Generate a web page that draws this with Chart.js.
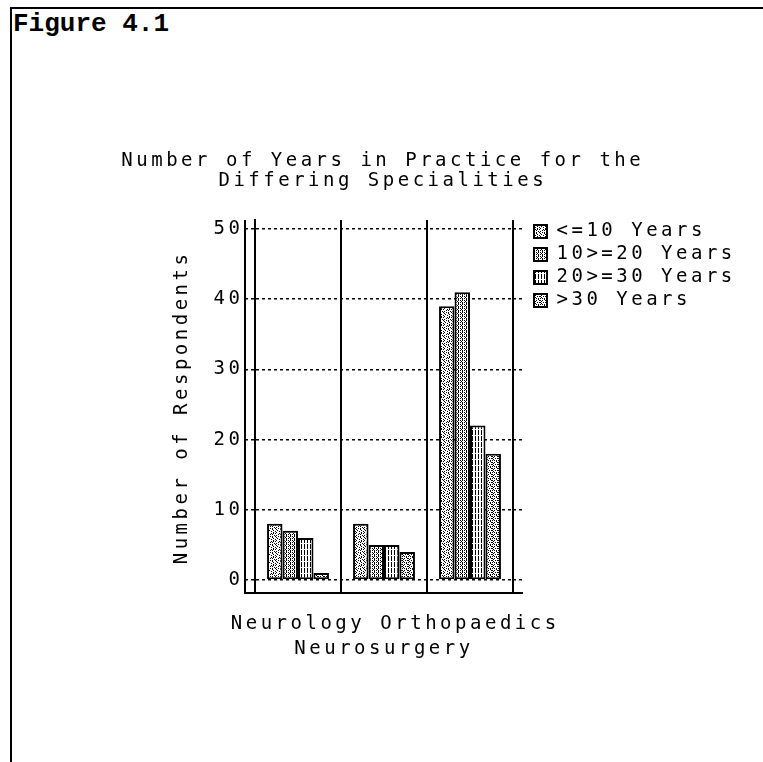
<!DOCTYPE html>
<html><head><meta charset="utf-8">
<script src="https://cdn.jsdelivr.net/npm/chart.js@4.4.0/dist/chart.umd.min.js"></script>
<style>
html,body{margin:0;padding:0;background:#fff;}
#wrap{position:relative;width:763px;height:762px;overflow:hidden;background:#fff;}
#frame{position:absolute;left:10px;top:7px;width:800px;height:800px;border-top:2.5px solid #000;border-left:2.5px solid #000;}
#fig{position:absolute;left:13px;top:9px;font:bold 26px "Liberation Mono";color:#000;}
canvas{position:absolute;left:0;top:0;}
</style></head>
<body><div id="wrap"><div id="frame"></div><div id="fig">Figure 4.1</div><canvas id="c" width="763" height="762"></canvas></div>
<script>
// ---- data ----
const categories = ['Neurology', 'Neurosurgery', 'Orthopaedics'];
const seriesNames = ['<=10 Years', '10>=20 Years', '20>=30 Years', '>30 Years'];
const upTo10 = [8, 8, 39];
const from10to20 = [7, 5, 41];
const from20to30 = [6, 5, 22];
const over30 = [1, 4, 18];
const yMin = 0, yMax = 51.3, yStep = 10;
const chartTitle = ['Number of Years in Practice for the', 'Differing Specialities'];
const yTitle = 'Number of Respondents ';

// ---- fill patterns (styling only) ----
const canvas = document.getElementById('c');
const mainCtx = canvas.getContext('2d');
function makePattern(rows){
  const h = rows.length, w = rows[0].length;
  const c = document.createElement('canvas'); c.width = w; c.height = h;
  const g = c.getContext('2d');
  g.fillStyle = '#fff'; g.fillRect(0,0,w,h);
  g.fillStyle = '#000';
  rows.forEach((r,y)=>{ for(let x=0;x<w;x++) if(r[x]==='#') g.fillRect(x,y,1,1); });
  return mainCtx.createPattern(c,'repeat');
}
const patterns = [
  makePattern(['#..#..#.','#...#...','.#...#..','...#...#','.#..#...','.#.#...#','#.....#.','..#.#...']),
  makePattern(['#.#.','.#..','#.#.','..#.']),
  makePattern(['.#..#.','.#..#.','.#..#.','......','.#..#.','.#..#.']),
  makePattern(['#.#..#','.#....','#..#.#','.#....','#.#.#.','....#.'])
];
const seriesValues = [upTo10, from10to20, from20to30, over30];

const FONT = 'DejaVu Sans Mono';
const LS = '3.5px';
const spacing = {
  id: 'spacing',
  beforeUpdate(chart){ chart.ctx.letterSpacing = LS; },
  beforeDraw(chart){ chart.ctx.letterSpacing = LS; },
  afterLayout(chart){
    const a = chart.chartArea;
    const L = chart.legend;
    if (L){ const w = L.width, h = L.height; L.left = a.right + 17; L.right = L.left + w; L.top = a.top - 2; L.bottom = L.top + h; }
    const T = chart.titleBlock;
    if (T){ const c = (T.left + T.right) / 2 + 37; T.left = c - 320; T.right = c + 320; }
  }
};
const frame = {
  id: 'frame',
  afterDraw(chart){
    const {ctx, chartArea:a} = chart;
    ctx.save();
    ctx.strokeStyle = '#000'; ctx.lineWidth = 2; ctx.setLineDash([]);
    ctx.beginPath();
    ctx.moveTo(a.left - 10, a.top); ctx.lineTo(a.left - 10, a.bottom + 13);
    ctx.lineTo(a.right + 10, a.bottom + 13);
    ctx.stroke();
    ctx.restore();
  }
};

new Chart(canvas, {
  type: 'bar',
  data: {
    labels: categories,
    datasets: seriesNames.map((n,i)=>({
      label: n,
      data: seriesValues[i],
      backgroundColor: patterns[i],
      borderColor: '#000',
      borderWidth: 2,
      borderSkipped: false,
      categoryPercentage: 0.72,
      barPercentage: 1.0
    }))
  },
  options: {
    responsive: false,
    animation: false,
    devicePixelRatio: 1,
    layout: { padding: { top: 140, left: 168.6, right: 240, bottom: 101 } },
    plugins: {
      title: {
        display: true, text: chartTitle, color: '#000',
        font: { family: FONT, size: 19, weight: 'normal', lineHeight: 1.05 },
        padding: { top: 11, bottom: 29 }
      },
      legend: {
        position: 'chartArea', align: 'start',
        labels: {
          boxWidth: 13, boxHeight: 13, padding: 4, color: '#000',
          font: { family: FONT, size: 19 }
        }
      },
      tooltip: { enabled: false }
    },
    scales: {
      x: {
        offset: true,
        afterFit(s){ s.height = 81; },
        border: { display: false },
        grid: { color: '#000', lineWidth: 2, offset: true, tickLength: 13, drawTicks: true },
        ticks: {
          color: '#000', font: { family: FONT, size: 19, lineHeight: 1.3 },
          padding: 18.6, maxRotation: 0, minRotation: 0, autoSkip: false,
          callback: function(v, i){ const l = this.getLabelForValue(v); return i % 2 ? ['', l] : l; }
        }
      },
      y: {
        min: yMin, max: yMax,
        afterFit(s){ s.width = 86.4; },
        border: { display: true, color: '#000', width: 2, dash: [3,3] },
        grid: { color: '#000', lineWidth: 1.5, tickLength: 10, tickBorderDash: [3,3], borderDash: [3,3] },
        ticks: { stepSize: yStep, includeBounds: false, color: '#000', padding: 1.5,
                 font: { family: FONT, size: 19 } },
        title: { display: true, text: yTitle, color: '#000',
                 font: { family: FONT, size: 19, lineHeight: 1.2 }, padding: { top: 2, bottom: 20 } }
      },
      y2: {
        position: 'right', min: yMin, max: yMax,
        afterFit(s){ s.width = 10; },
        border: { display: false, dash: [3,3] },
        grid: { drawOnChartArea: false, color: '#000', lineWidth: 1.5, tickLength: 10, tickBorderDash: [3,3] },
        ticks: { stepSize: yStep, includeBounds: false, padding: 0, callback: () => '' }
      }
    }
  },
  plugins: [spacing, frame]
});
</script>
</body></html>
